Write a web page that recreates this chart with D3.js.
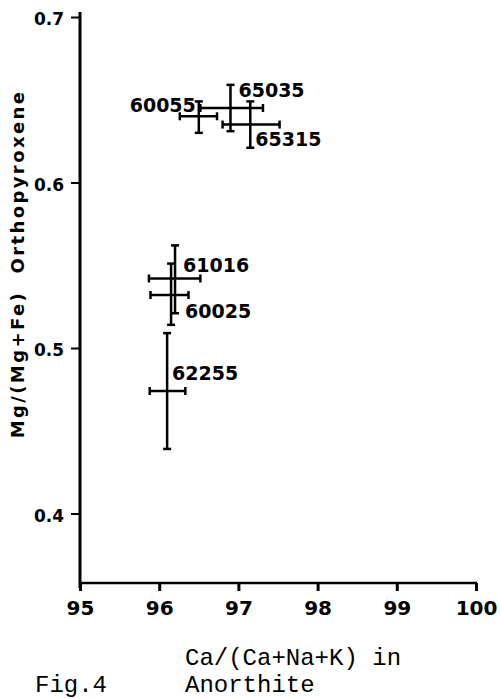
<!DOCTYPE html>
<html>
<head>
<meta charset="utf-8">
<script src="https://cdn.jsdelivr.net/npm/d3@7"></script>
<style>
  body { margin: 0; background: #fff; }
  svg { display: block; }
</style>
</head>
<body>
<div class="canvas"></div>
<script>
// sample numbers and the two ratios, with the ends of each error bar
const samples = ['60055', '65035', '65315', '61016', '60025', '62255'];
const anorthite = [96.5, 96.9, 97.15, 96.2, 96.15, 96.1];
const anorthiteLow = [96.26, 96.52, 96.8, 95.87, 95.89, 95.88];
const anorthiteHigh = [96.73, 97.31, 97.52, 96.52, 96.37, 96.33];
const mgNumber = [0.640, 0.645, 0.635, 0.542, 0.532, 0.474];
const mgLow = [0.630, 0.631, 0.621, 0.521, 0.514, 0.439];
const mgHigh = [0.649, 0.659, 0.649, 0.562, 0.551, 0.509];

const xTicks = [95, 96, 97, 98, 99, 100];
const yTicks = [0.4, 0.5, 0.6, 0.7];

// where each label sits next to its point (px)
const labelPos = [
  { dx: -3, dy: -4, anchor: 'end' },
  { dx: 8, dy: -11, anchor: 'start' },
  { dx: 5, dy: 21, anchor: 'start' },
  { dx: 8, dy: -6, anchor: 'start' },
  { dx: 14, dy: 23, anchor: 'start' },
  { dx: 5, dy: -11, anchor: 'start' }
];

const svg = d3.select('.canvas').append('svg')
    .attr('width', 500)
    .attr('height', 699);

const x = d3.scaleLinear().domain([95, 100]).range([80, 476]);
const y = d3.scaleLinear().domain([0.358, 0.7]).range([583, 17]);

const bold = 'DejaVu Sans, sans-serif';
const mono = 'Liberation Mono, monospace';

// y axis
const yAxis = svg.append('g')
    .attr('transform', 'translate(80,0)')
    .call(d3.axisLeft(y).tickValues(yTicks).tickSize(9).tickFormat(d3.format('.1f')));
yAxis.select('.domain').remove();
yAxis.selectAll('line').attr('stroke', '#000').attr('stroke-width', 2);
yAxis.selectAll('text')
    .attr('x', -16)
    .attr('dy', '0.45em')
    .style('font-family', bold)
    .style('font-weight', 'bold')
    .style('font-size', '17px')
    .attr('fill', '#000');
svg.append('line')
    .attr('x1', 80).attr('x2', 80)
    .attr('y1', 12).attr('y2', 588)
    .attr('stroke', '#000').attr('stroke-width', 3);

// x axis
const xAxis = svg.append('g')
    .attr('transform', 'translate(0,583)')
    .call(d3.axisBottom(x).tickValues(xTicks).tickSize(8).tickFormat(d3.format('d')));
xAxis.select('.domain').remove();
xAxis.selectAll('line').attr('stroke', '#000').attr('stroke-width', 3);
xAxis.selectAll('text')
    .attr('y', 17)
    .attr('dy', '0.75em')
    .style('font-family', bold)
    .style('font-weight', 'bold')
    .style('font-size', '20px')
    .attr('fill', '#000');
svg.append('line')
    .attr('x1', 80).attr('x2', 477)
    .attr('y1', 583).attr('y2', 583)
    .attr('stroke', '#000').attr('stroke-width', 2.5);

// axis titles
svg.append('text')
    .attr('transform', 'translate(24,264) rotate(-90)')
    .attr('text-anchor', 'middle')
    .style('font-family', bold)
    .style('font-weight', 'bold')
    .style('font-size', '18px')
    .style('letter-spacing', '2.4px')
    .style('white-space', 'pre')
    .text('Mg/(Mg+Fe)  Orthopyroxene');

svg.append('text')
    .attr('x', 185).attr('y', 665)
    .style('font-family', mono)
    .style('font-size', '24px')
    .text('Ca/(Ca+Na+K) in');
svg.append('text')
    .attr('x', 185).attr('y', 692)
    .style('font-family', mono)
    .style('font-size', '24px')
    .text('Anorthite');
svg.append('text')
    .attr('x', 35).attr('y', 692)
    .style('font-family', mono)
    .style('font-size', '24px')
    .text('Fig.4');

// error bars
const cap = 4;
const pts = svg.append('g').selectAll('g')
    .data(samples)
    .join('g')
    .attr('stroke', '#000')
    .attr('stroke-width', 2.5);

pts.append('line') // vertical
    .attr('x1', (d, i) => x(anorthite[i]))
    .attr('x2', (d, i) => x(anorthite[i]))
    .attr('y1', (d, i) => y(mgLow[i]))
    .attr('y2', (d, i) => y(mgHigh[i]));
pts.append('line')
    .attr('x1', (d, i) => x(anorthite[i]) - cap)
    .attr('x2', (d, i) => x(anorthite[i]) + cap)
    .attr('y1', (d, i) => y(mgLow[i]))
    .attr('y2', (d, i) => y(mgLow[i]));
pts.append('line')
    .attr('x1', (d, i) => x(anorthite[i]) - cap)
    .attr('x2', (d, i) => x(anorthite[i]) + cap)
    .attr('y1', (d, i) => y(mgHigh[i]))
    .attr('y2', (d, i) => y(mgHigh[i]));

pts.append('line') // horizontal
    .attr('x1', (d, i) => x(anorthiteLow[i]))
    .attr('x2', (d, i) => x(anorthiteHigh[i]))
    .attr('y1', (d, i) => y(mgNumber[i]))
    .attr('y2', (d, i) => y(mgNumber[i]));
pts.append('line')
    .attr('x1', (d, i) => x(anorthiteLow[i]))
    .attr('x2', (d, i) => x(anorthiteLow[i]))
    .attr('y1', (d, i) => y(mgNumber[i]) - cap)
    .attr('y2', (d, i) => y(mgNumber[i]) + cap);
pts.append('line')
    .attr('x1', (d, i) => x(anorthiteHigh[i]))
    .attr('x2', (d, i) => x(anorthiteHigh[i]))
    .attr('y1', (d, i) => y(mgNumber[i]) - cap)
    .attr('y2', (d, i) => y(mgNumber[i]) + cap);

// sample labels
svg.append('g').selectAll('text')
    .data(samples)
    .join('text')
    .attr('x', (d, i) => x(anorthite[i]) + labelPos[i].dx)
    .attr('y', (d, i) => y(mgNumber[i]) + labelPos[i].dy)
    .attr('text-anchor', (d, i) => labelPos[i].anchor)
    .style('font-family', bold)
    .style('font-weight', 'bold')
    .style('font-size', '19px')
    .text(d => d);
</script>
</body>
</html>
